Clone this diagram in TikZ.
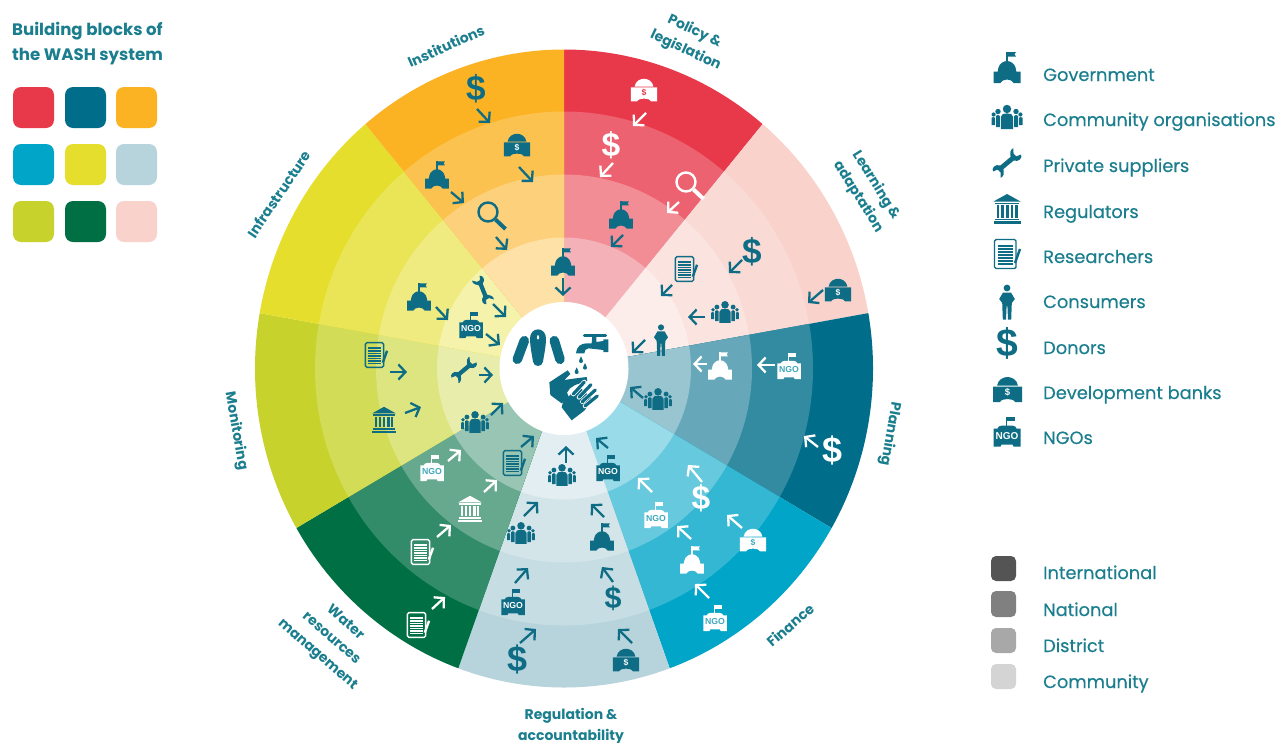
\documentclass[tikz,border=0pt]{standalone}
\usepackage{fontspec}
\usetikzlibrary{arrows.meta}
\setmainfont{Poppins}
\newfontfamily\dollarfont{Liberation Sans}
\newfontfamily\legfont{Poppins}[FakeBold=0.25]
\definecolor{labc}{HTML}{1A7E8E}
\definecolor{fgT}{HTML}{0E6D85}
\definecolor{bgT}{HTML}{FFFFFF}
\definecolor{fgW}{HTML}{FFFFFF}
\definecolor{bgW}{HTML}{3FA8BE}
\definecolor{dark}{HTML}{0E6D85}
\tikzset{
  lab/.style={text=labc,font=\fontsize{14}{21}\selectfont\bfseries,align=center,inner sep=0pt},
  leg/.style={text=labc,font=\legfont\fontsize{17.8}{20}\selectfont,anchor=base west,inner sep=0pt},
  swatch/.style={rounded corners=8pt},
  ptr/.style={line width=2.3pt,-{Straight Barb[length=7pt,width=15pt]}}
}
% icons: y grows downwards, centred on (0,0), legend size at scale 1
\newcommand\icogov{%
  \fill[icfg] (-0.8,-15.5) rectangle (0.8,-5);
  \fill[icfg] (0.8,-15.5)--(9,-15.5)--(7.5,-13.2)--(9,-11)--(0.8,-11)--cycle;
  \fill[icfg] (-9.5,4.6) -- (-8.5,0) .. controls (-7.5,-3.5) and (-4,-6.5) .. (0,-6.5) .. controls (4,-6.5) and (7.5,-3.5) .. (8.5,0) -- (9.5,4.6)--cycle;
  \fill[icfg] (-13.5,4)--(13.5,4)--(13.5,15.5)--(6.5,15.5) .. controls (6,13.5) and (3,12) .. (0,12) .. controls (-3,12) and (-6,13.5) .. (-6.5,15.5)--(-13.5,15.5)--cycle;}
\newcommand\icobank{%
  \fill[icfg] (-10.5,-3.8) .. controls (-9.5,-10) and (-4,-12.5) .. (0,-12.5) .. controls (4,-12.5) and (9.5,-10) .. (10.5,-3.8)--cycle;
  \fill[icfg] (-14.5,-3)--(14.5,-3)--(14.5,12.5)--(7.5,12.5) .. controls (7,10.5) and (3,9.5) .. (0,9.5) .. controls (-3,9.5) and (-7,10.5) .. (-7.5,12.5)--(-14.5,12.5)--cycle;
  \node[transform shape,text=icbg,inner sep=0pt,font=\dollarfont\bfseries\fontsize{9.5}{10}\selectfont] at (0,3) {\$};}
\newcommand\icongo{%
  \fill[icfg] (-1.2,-15) rectangle (0.2,-5);
  \fill[icfg] (0.2,-15)--(8,-15)--(8,-10.5)--(0.2,-10.5)--cycle;
  \fill[icfg] (-10,-2) .. controls (-10,-4.5) and (-7,-6) .. (-5,-6)--(5,-6) .. controls (7,-6) and (10,-4.5) .. (10,-2)--cycle;
  \fill[icfg] (-13.5,-3)--(13.5,-3)--(13.5,15)--(6.5,15)--(5.5,13)--(-5.5,13)--(-6.5,15)--(-13.5,15)--cycle;
  \node[transform shape,text=icbg,inner sep=0pt,font=\dollarfont\bfseries\fontsize{10}{10}\selectfont] at (0,4.5) {NGO};}
\newcommand\icodollar{%
  \node[transform shape,text=icfg,inner sep=0pt,font=\dollarfont\bfseries\fontsize{39}{39}\selectfont] at (0,0) {\$};}
\newcommand\icocommunity{%
  \fill[icfg] (0,-8) circle (4.2);
  \fill[icfg] (-6.2,12) -- (-6.2,0) .. controls (-6.2,-3) and (-3,-3.6) .. (0,-3.6) .. controls (3,-3.6) and (6.2,-3) .. (6.2,0) -- (6.2,12) -- cycle;
  \foreach \sg in {-1,1}{
    \fill[icfg] (\sg*9,-5.5) circle (2.7);
    \fill[icfg] (\sg*7.2,10) -- (\sg*7.2,-1) .. controls (\sg*7.7,-2.4) and (\sg*10.3,-2.4) .. (\sg*11,-1) -- (\sg*11,10) -- cycle;
    \fill[icfg] (\sg*13.4,-2.5) circle (2.1);
    \fill[icfg] (\sg*12,8) -- (\sg*12,0.8) .. controls (\sg*12.5,-0.2) and (\sg*15,-0.2) .. (\sg*15.5,0.8) -- (\sg*15.5,8) -- cycle;
  }}
\newcommand\wrenchshape{%
  \fill[icfg] (-8,-2.5) -- (7,-2.5) .. controls (8.5,-3.5) and (9,-7.6) .. (13.5,-8) -- (15,-7.6) -- (11.5,-3) -- (12,1) -- (17,2.6)
    .. controls (16.5,6.4) and (10,7.6) .. (7,2.5) -- (-7,2.5) .. controls (-8.5,3.5) and (-9,7.6) .. (-13.5,8) -- (-15,7.6) -- (-11.5,3) -- (-12,-1) -- (-17,-2.6)
    .. controls (-16.5,-6.4) and (-10,-7.6) .. (-7,-2.5) -- cycle;}
\newcommand\icowrench{\begin{scope}[rotate=40]\wrenchshape\end{scope}}
\newcommand\icowrenchb{\begin{scope}[rotate=-68]\wrenchshape\end{scope}}
\newcommand\icoregulator{%
  \fill[icfg] (-13.5,-7.5)--(0,-15)--(13.5,-7.5)--cycle;
  \fill[icfg] (-12,-6.5) rectangle (12,-4.8);
  \foreach \cx in {-10.5,-5.7,-0.9,3.9,8.1}{\fill[icfg] (\cx,-3.8) rectangle (\cx+2.4,8.5);}
  \fill[icfg] (-12,9.5) rectangle (12,11);
  \fill[icfg] (-13.5,12) rectangle (13.5,15);}
\newcommand\icoresearcher{%
  \draw[icfg,line width=1.4pt,rounded corners=1.5pt] (-12.5,-14.5) rectangle (9,14.5);
  \foreach \ly in {-8,-5,-2,1,4,7,10}{\draw[icfg,line width=1.5pt] (-9.5,\ly) -- (6,\ly);}
  \draw[icfg,line width=2.4pt] (13,-5) -- (8,9);}
\newcommand\icoconsumer{%
  \fill[icfg] (0,-14) circle (3.4);
  \fill[icfg] (-4,-9.5)--(4,-9.5)--(7.8,-3)--(4.8,1)--(4.2,17.5)--(1,17.5)--(0.4,4)--(-0.4,4)--(-1,17.5)--(-4.2,17.5)--(-4.8,1)--(-7.8,-3)--cycle;}
\newcommand\icomag{%
  \draw[icfg,line width=2.4pt] (0,0) circle (9.5);
  \draw[icfg,line width=4pt] (7.5,7.5) -- (17.5,17);}
% \putico{name}{x}{y}{scale}{T or W}
\newcommand\putico[5]{\begin{scope}[shift={(#2,#3)},scale=#4]\colorlet{icfg}{fg#5}\colorlet{icbg}{bg#5}\csname ico#1\endcsname\end{scope}}
\newcommand\ptrT[4]{\draw[ptr,dark] (#1,#2) -- (#3,#4);}
\newcommand\ptrW[4]{\draw[ptr,white] (#1,#2) -- (#3,#4);}
\begin{document}
\begin{tikzpicture}[x=1pt,y=-1pt]
\useasboundingbox (0,0) rectangle (1279,742);
\fill[white] (0,0) rectangle (1279,742);
% wheel
\begin{scope}[shift={(564,368.5)},x=1pt,y=1pt]
  \foreach \sa/\ca/\cb/\cc/\cd in {
    50/E8394A/ED6270/F28C95/F5B1B8,
    10/F8D2CB/F9DAD5/FBE3DF/FCEDEA,
    -30/006E8A/338BA1/66A8B9/99C5D0,
    -70/00A5C8/33B7D3/66C9DE/99DBE9,
    -110/B7D4DC/C5DDE3/D4E5EA/E2EEF1,
    -150/006F44/338C69/66A98F/99C5B4,
    170/C7D32C/D2DC56/DDE580/E9EDAB,
    130/E5DE2C/EAE556/F0EB80/F5F2AB,
    90/FBB324/FCC250/FDD17C/FDE1A7}{
    \pgfmathsetmacro\sb{\sa+40}
    \definecolor{ra}{HTML}{\ca}\definecolor{rb}{HTML}{\cb}\definecolor{rc}{HTML}{\cc}\definecolor{rd}{HTML}{\cd}
    \fill[ra] (0,0) -- (\sa:309pt and 319pt) arc[start angle=\sa,end angle=\sb,x radius=309pt,y radius=319pt] -- cycle;
    \fill[rb] (0,0) -- (\sa:249pt and 257pt) arc[start angle=\sa,end angle=\sb,x radius=249pt,y radius=257pt] -- cycle;
    \fill[rc] (0,0) -- (\sa:188pt and 194pt) arc[start angle=\sa,end angle=\sb,x radius=188pt,y radius=194pt] -- cycle;
    \fill[rd] (0,0) -- (\sa:127pt and 131pt) arc[start angle=\sa,end angle=\sb,x radius=127pt,y radius=131pt] -- cycle;
  }
  \fill[white] (0,0) ellipse [x radius=64.5pt,y radius=66.5pt];
\end{scope}
% centre emblem
\begin{scope}[shift={(505,320)},scale=0.3333]
  \draw[dark,line width=9.5pt,line cap=round] (58,62) -- (37,118);
  \draw[dark,line width=9.5pt,line cap=round] (148,62) -- (165,118);
  \fill[dark,even odd rule] (99,28) .. controls (113,28) and (123,40) .. (123,55) .. controls (123,80) and (116,110) .. (114,125) .. controls (112,142) and (86,142) .. (84,125) .. controls (82,110) and (75,80) .. (75,55) .. controls (75,40) and (85,28) .. (99,28) -- cycle
     (99,52) circle (4 and 7);
  \draw[dark,line width=3pt,line cap=round] (238,45) -- (302,45);
  \fill[dark] (213,100) .. controls (214,80) and (228,70) .. (245,70) -- (260,70) -- (262,48) -- (274,48) -- (274,66) -- (295,63) -- (295,58) -- (310,58) -- (310,96) -- (295,96) -- (295,90) -- (250,85) .. controls (242,86) and (238,92) .. (238,100) -- cycle;
  \foreach \dx/\dy in {228/122,240/142,215/155}{
    \fill[dark] (\dx,\dy-13) .. controls (\dx+2,\dy-6) and (\dx+6,\dy-3) .. (\dx+6,\dy+1) .. controls (\dx+6,\dy+9) and (\dx-6,\dy+9) .. (\dx-6,\dy+1) .. controls (\dx-6,\dy-3) and (\dx-2,\dy-6) .. (\dx,\dy-13) -- cycle;}
  \fill[dark] (133,187) -- (188,151) -- (196,162) -- (178,180) -- (205,176) -- (245,171) -- (247,183) -- (210,195) -- (195,205) -- (186,218) -- (192,232) -- (170,250) -- (136,225) -- cycle;
  \fill[dark] (170,262) -- (174,246) -- (200,220) -- (225,203) -- (264,238) -- (238,272) -- (200,301) -- cycle;
  \foreach \fa/\fb/\fc/\fd in {205/222/238/186,222/232/258/194,232/245/271/210,240/258/277/228}{
    \draw[white,line width=4.6pt,line cap=round] (\fa,\fb) -- (\fc,\fd);
    \draw[dark,line width=3.2pt,line cap=round] (\fa,\fb) -- (\fc,\fd);}
\end{scope}
% policy
\begingroup\definecolor{bgW}{HTML}{E8394A}\putico{bank}{644}{90}{.9}{W}\endgroup
\ptrW{646}{113}{633}{126}
\putico{dollar}{611}{145}{.86}{W}
\ptrW{613}{163}{600}{177}
\putico{mag}{686}{182}{1}{W}
\ptrW{679}{202}{667}{213}
\putico{gov}{621}{215}{.88}{T}
\ptrT{623}{235}{611}{247}
% institutions
\putico{gov}{563}{262}{.88}{T}
\ptrT{563}{278}{563}{296}
\putico{dollar}{476}{89}{.9}{T}
\ptrT{477}{109}{490}{123}
\putico{bank}{517}{145}{.9}{T}
\ptrT{519}{167}{533}{182}
\putico{gov}{437}{175}{.88}{T}
\ptrT{451}{192}{464}{203}
\putico{mag}{488}{212}{1}{T}
\ptrT{496}{237}{507}{250}
% infrastructure
\putico{wrenchb}{483}{290}{.85}{T}
\ptrT{493}{304}{506}{317}
\putico{ngo}{471}{325}{.87}{T}
\ptrT{486}{334}{500}{345}
\putico{gov}{419}{297}{.88}{T}
\ptrT{436}{307}{448}{320}
% monitoring
\putico{wrench}{464}{370}{.85}{T}
\ptrT{479}{375}{493}{375}
\putico{researcher}{376}{355}{.85}{T}
\ptrT{390}{372}{407}{372}
\putico{regulator}{384}{420}{.88}{T}
\ptrT{405}{413}{421}{407}
\putico{community}{475}{422}{.9}{T}
\ptrT{491}{415}{503}{403}
% water
\putico{ngo}{432}{468}{.87}{W}
\ptrW{448}{461}{461}{450}
\putico{researcher}{514}{463}{.85}{T}
\ptrT{521}{447}{534}{436}
\putico{regulator}{470}{509}{.88}{W}
\ptrW{484}{492}{497}{480}
\putico{researcher}{422}{552}{.85}{W}
\ptrW{437}{537}{451}{525}
\putico{researcher}{418}{625}{.85}{W}
\ptrW{432}{609}{445}{597}
% regulation
\putico{community}{562}{475}{.9}{T}
\ptrT{566}{463}{566}{446}
\putico{ngo}{608}{468}{.87}{T}
\ptrT{608}{448}{596}{438}
\putico{community}{521}{533}{.9}{T}
\ptrT{524}{516}{538}{502}
\putico{gov}{602}{537}{.88}{T}
\ptrT{604}{517}{591}{504}
\putico{ngo}{513}{602}{.87}{T}
\ptrT{515}{583}{528}{568}
\putico{dollar}{613}{598}{.78}{T}
\ptrT{613}{582}{602}{567}
\putico{dollar}{517}{660}{.92}{T}
\ptrT{520}{643}{536}{629}
\putico{bank}{626}{660}{.9}{T}
\ptrT{632}{643}{618}{629}
% finance
\putico{ngo}{656}{515}{.87}{W}
\ptrW{652}{492}{638}{478}
\putico{dollar}{701}{498}{.86}{W}
\ptrW{702}{482}{688}{465}
\putico{gov}{692}{560}{.88}{W}
\ptrW{691}{539}{677}{526}
\putico{bank}{753}{540}{.9}{W}
\ptrW{742}{528}{727}{515}
\putico{ngo}{715}{618}{.87}{W}
\ptrW{709}{598}{695}{584}
% planning
\putico{community}{658}{399}{.9}{T}
\ptrT{643}{398}{630}{387}
\putico{gov}{720}{366}{.88}{W}
\ptrW{707}{364}{693}{364}
\putico{ngo}{789}{366}{.87}{W}
\ptrW{775}{365}{757}{365}
\putico{dollar}{832}{451}{.92}{W}
\ptrW{818}{447}{804}{436}
% learning
\putico{consumer}{661}{340}{.9}{T}
\ptrT{645}{340}{632}{353}
\putico{community}{725}{312}{.9}{T}
\ptrT{705}{317}{688}{317}
\putico{researcher}{686}{269}{.85}{T}
\ptrT{672}{285}{661}{296}
\putico{dollar}{752}{252}{.9}{T}
\ptrT{742}{260}{729}{273}
\putico{bank}{838}{290}{.9}{T}
\ptrT{823}{290}{808}{303}
% sector labels
\node[lab,rotate=24] (institutions) at (446,46) {Institutions};
\node[lab,rotate=-25] (policy) at (690,41) {Policy \&\\legislation};
\node[lab,rotate=-58] (learning) at (867,191) {Learning \&\\adaptation};
\node[lab,rotate=-100] (planning) at (890,434) {Planning};
\node[lab,rotate=41] (financelab) at (790,625) {Finance};
\node[lab] (regulation) at (571,726) {Regulation \&\\accountability};
\node[lab,rotate=-41] (watermgmt) at (331,639) {Water\\resources\\management};
\node[lab,rotate=-80] (monitoring) at (236,431) {Monitoring};
\node[lab,rotate=56] (infrastructure) at (279,194) {Infrastructure};
% title and colour key
\node[text=labc,font=\fontsize{16.6}{25}\selectfont\bfseries,align=left,anchor=west,inner sep=0pt] (title) at (12,43.5) {Building blocks of\\the WASH system};
\foreach \kx/\ky/\kc in {13/87/E8394A,65/87/006E8A,116/87/FBB324,13/144/00A5C8,65/144/E5DE2C,116/144/B7D4DC,13/201/C7D32C,65/201/006F44,116/201/F8D2CB}{
  \definecolor{kk}{HTML}{\kc}
  \fill[kk,swatch] (\kx,\ky) rectangle (\kx+41,\ky+41);}
% actor key
\putico{gov}{1007}{67.5}{1}{T}
\putico{community}{1007}{117}{1}{T}
\putico{wrench}{1007}{163}{.95}{T}
\putico{regulator}{1007}{209}{1}{T}
\putico{researcher}{1007}{254}{1}{T}
\putico{consumer}{1007}{302}{1}{T}
\putico{dollar}{1007}{343}{1}{T}
\putico{bank}{1007.5}{389.5}{1}{T}
\putico{ngo}{1007}{431.5}{1}{T}
\node[leg] (k1) at (1043,81) {Government};
\node[leg] (k2) at (1043,126) {Community organisations};
\node[leg] (k3) at (1043,172) {Private suppliers};
\node[leg] (k4) at (1043,218) {Regulators};
\node[leg] (k5) at (1043,263) {Researchers};
\node[leg] (k6) at (1043,308) {Consumers};
\node[leg] (k7) at (1043,354) {Donors};
\node[leg] (k8) at (1043,399) {Development banks};
\node[leg] (k9) at (1043,444) {NGOs};
% level key
\fill[black!67,rounded corners=5pt] (991,556) rectangle (1016,581);
\fill[black!50,rounded corners=5pt] (991,591) rectangle (1016,617);
\fill[black!34,rounded corners=5pt] (991,628) rectangle (1016,653);
\fill[black!17,rounded corners=5pt] (991,664) rectangle (1016,689);
\node[leg] (l1) at (1043,579) {International};
\node[leg] (l2) at (1043,616) {National};
\node[leg] (l3) at (1043,652) {District};
\node[leg] (l4) at (1043,688) {Community};
\end{tikzpicture}
\end{document}
